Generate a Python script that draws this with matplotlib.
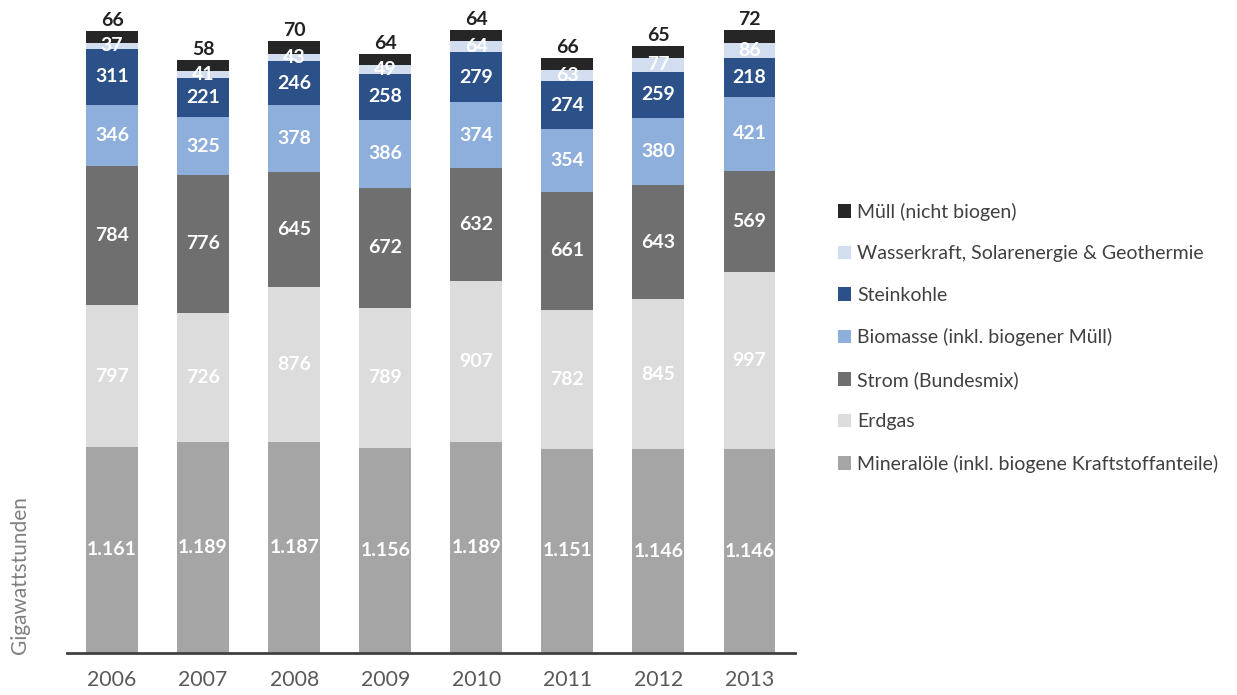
import numpy as np
import matplotlib
matplotlib.use('Agg')
from matplotlib import pyplot as plt
from matplotlib.patches import Patch

plt.rcParams['font.family'] = ['Lato', 'DejaVu Sans']

years = ['2006', '2007', '2008', '2009', '2010', '2011', '2012', '2013']
series = ['Mineralöle (inkl. biogene Kraftstoffanteile)', 'Erdgas', 'Strom (Bundesmix)',
          'Biomasse (inkl. biogener Müll)', 'Steinkohle',
          'Wasserkraft, Solarenergie & Geothermie', 'Müll (nicht biogen)']
mineraloele = [1161, 1189, 1187, 1156, 1189, 1151, 1146, 1146]
erdgas = [797, 726, 876, 789, 907, 782, 845, 997]
strom = [784, 776, 645, 672, 632, 661, 643, 569]
biomasse = [346, 325, 378, 386, 374, 354, 380, 421]
steinkohle = [311, 221, 246, 258, 279, 274, 259, 218]
wasser = [37, 41, 43, 49, 64, 63, 77, 86]
muell = [66, 58, 70, 64, 64, 66, 65, 72]

values = [mineraloele, erdgas, strom, biomasse, steinkohle, wasser, muell]
colors = ['#a5a5a5', '#dcdcdc', '#6f6f6f', '#8eaedb', '#2c5189', '#d2def0', '#262626']

def fmt(v):
  return '{:,}'.format(v).replace(',', '.')

fig = plt.figure(figsize=(12.37, 6.95), dpi=100)
ax = fig.add_axes([0.0538, 0.0604, 0.5889, 0.9252])

x = np.arange(len(years))
bottom = np.zeros(len(years))
for i, (name, vals) in enumerate(zip(series, values)):
  vals = np.array(vals)
  ax.bar(x, vals, 0.57, bottom=bottom, color=colors[i], label=name, zorder=2)
  for j in range(len(years)):
    if i == len(series) - 1:
      ax.text(x[j], bottom[j] + vals[j] + 12, fmt(vals[j]), ha='center', va='bottom',
              color='#222222', fontsize=14, fontweight='bold')
    else:
      ax.text(x[j], bottom[j] + vals[j] / 2, fmt(vals[j]), ha='center', va='center',
              color='white', fontsize=14, fontweight='bold')
  bottom = bottom + vals

ax.set_xlim(-0.5, 7.5)
ax.set_ylim(0, 3620)
ax.set_xticks(x)
ax.set_xticklabels(years, fontsize=15.3, color='#595959')
ax.tick_params(axis='x', length=0, pad=12)
ax.set_yticks([])
for s in ['top', 'right', 'left']:
  ax.spines[s].set_visible(False)
ax.spines['bottom'].set_color('#404040')
ax.spines['bottom'].set_linewidth(2)

fig.text(20 / 1237, 41 / 695, 'Gigawattstunden', rotation=90, ha='center', va='bottom',
         fontsize=15, color='#7f7f7f')

handles = [Patch(facecolor=colors[i], label=series[i]) for i in range(len(series) - 1, -1, -1)]
fig.legend(handles=handles, loc='upper left', bbox_to_anchor=(830 / 1237, 1 - 195 / 695),
           frameon=False, fontsize=14, labelcolor='#404040', handlelength=0.7,
           handleheight=0.7, handletextpad=0.3, labelspacing=1.26, borderaxespad=0)

fig.savefig('out.png', dpi=100)
